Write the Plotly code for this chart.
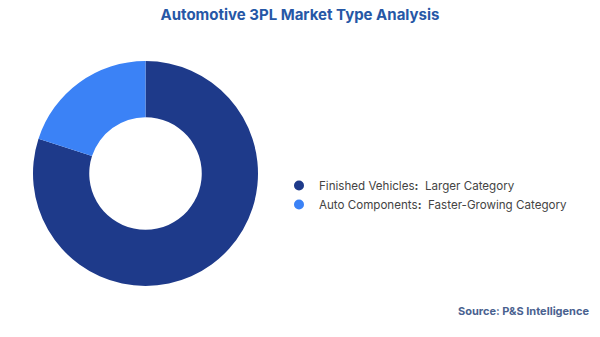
import plotly.graph_objects as go

categories = ["Finished Vehicles", "Auto Components"]
legend_labels = ["Finished Vehicles<b>:</b>  Larger Category",
                 "Auto Components<b>:</b>  Faster-Growing Category"]
shares = [80, 20]
colors = ["#1e3a8a", "#3b82f6"]

fig = go.Figure()
fig.add_trace(go.Pie(
    labels=categories, values=shares, hole=0.5, sort=False,
    direction="clockwise", rotation=0,
    marker=dict(colors=colors, line=dict(width=0)),
    textinfo="none", hoverinfo="label+percent", showlegend=False,
    domain=dict(x=[33/600, 258/600], y=[1-286/337, 1-61/337]),
))
for lab, col in zip(legend_labels, colors):
    fig.add_trace(go.Scatter(
        x=[None], y=[None], mode="markers", name=lab,
        marker=dict(color=col, size=10, symbol="circle"),
        showlegend=True,
    ))

fig.update_layout(
    width=600, height=337,
    margin=dict(l=0, r=0, t=0, b=0),
    paper_bgcolor="white", plot_bgcolor="white",
    font=dict(family="Inter, Noto Sans, sans-serif", color="#444444"),
    title=dict(text="<b>Automotive 3PL Market Type Analysis</b>",
               x=0.5, xanchor="center", y=1-15/337, yanchor="middle",
               font=dict(size=15, color="#2657a6", family="Inter, Noto Sans, sans-serif")),
    xaxis=dict(visible=False), yaxis=dict(visible=False),
    legend=dict(x=279/600, xanchor="left", y=1-195/337, yanchor="middle",
                font=dict(size=11.6, color="#444444"), itemwidth=30,
                tracegroupgap=4, bgcolor="rgba(0,0,0,0)"),
    annotations=[dict(text="<b>Source: P&S Intelligence</b>", x=591/600, y=1-311/337,
                      xref="paper", yref="paper", xanchor="right", yanchor="middle",
                      showarrow=False, font=dict(size=11, color="#4a6290"))],
)
fig.write_html("out.html")
